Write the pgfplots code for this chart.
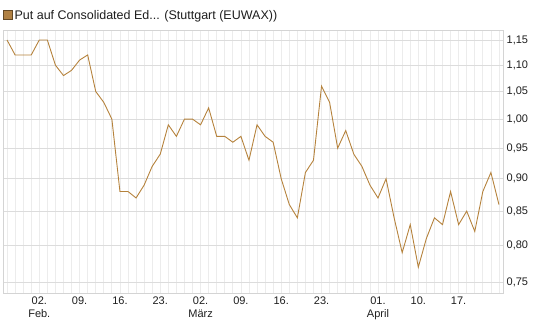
\documentclass[border=0pt]{standalone}
\usepackage{pgfplots}
\pgfplotsset{compat=1.18}
\usepackage{fontspec}
\setmainfont{Liberation Sans}
\definecolor{linec}{RGB}{181,130,60}
\definecolor{legfill}{RGB}{176,128,66}
\definecolor{legdraw}{RGB}{100,72,36}
\definecolor{gridv}{RGB}{236,236,236}
\definecolor{gridh}{RGB}{220,220,220}
\definecolor{framec}{RGB}{212,212,212}
\definecolor{txt}{RGB}{30,30,30}
\begin{document}
\begin{tikzpicture}
\path[use as bounding box] (-3bp,-34bp) rectangle (542bp,293bp);
\begin{axis}[
  at={(0,0)}, anchor=south west,
  scale only axis, width=500bp, height=263bp,
  xmin=-0.5, xmax=61.5,
  ymode=log, ymin=0.7356, ymax=1.1705,
  axis line style={draw=framec, line width=0.8bp},
  yticklabel pos=right,
  ytick={0.75,0.8,0.85,0.9,0.95,1.0,1.05,1.1,1.15},
  yticklabels={{0,75},{0,80},{0,85},{0,90},{0,95},{1,00},{1,05},{1,10},{1,15}},
  xtick={4,9,14,19,24,29,34,39,46,51,56},
  xticklabels={{02.\\Feb.},09.,16.,23.,{02.\\März},09.,16.,23.,{01.\\April},10.,17.},
  minor xtick={0,...,61},
  major tick length=0pt, minor tick length=0pt,
  xmajorgrids, xminorgrids, ymajorgrids,
  x grid style={draw=gridv, line width=0.8bp},
  minor x grid style={draw=gridv, line width=0.8bp},
  y grid style={draw=gridh, line width=0.8bp},
  tick label style={font=\fontsize{11bp}{13bp}\selectfont, text=txt},
  xticklabel style={align=center, inner sep=0pt, yshift=-4bp},
  yticklabel style={inner sep=0pt, xshift=3.5bp},
  legend style={at={(axis description cs:0,1)}, anchor=south west,
    draw=none, fill=none, inner sep=0pt, outer sep=0pt, yshift=7.5bp,
    font=\fontsize{12.5bp}{14bp}\selectfont, text=txt,
    nodes={inner sep=2pt}},
  legend cell align=left,
  legend image code/.code={\draw[fill=legfill, draw=legdraw, line width=0.6bp] (0bp,-4.5bp) rectangle (9bp,4.5bp);},
]
\addplot[color=linec, line width=0.9bp, mark=none] coordinates {
(0,1.15) (1,1.12) (2,1.12) (3,1.12) (4,1.15) (5,1.15) (6,1.10) (7,1.08) (8,1.09) (9,1.11)
(10,1.12) (11,1.05) (12,1.03) (13,1.00) (14,0.88) (15,0.88) (16,0.87) (17,0.89) (18,0.92) (19,0.94)
(20,0.99) (21,0.97) (22,1.00) (23,1.00) (24,0.99) (25,1.02) (26,0.97) (27,0.97) (28,0.96) (29,0.97)
(30,0.93) (31,0.99) (32,0.97) (33,0.96) (34,0.90) (35,0.86) (36,0.84) (37,0.91) (38,0.93) (39,1.06)
(40,1.03) (41,0.95) (42,0.98) (43,0.94) (44,0.92) (45,0.89) (46,0.87) (47,0.90) (48,0.84) (49,0.79)
(50,0.83) (51,0.77) (52,0.81) (53,0.84) (54,0.83) (55,0.88) (56,0.83) (57,0.85) (58,0.82) (59,0.88)
(60,0.91) (61,0.86)
};
\addlegendentry{Put auf Consolidated Ed... (Stuttgart (EUWAX))}
\end{axis}
\end{tikzpicture}
\end{document}
